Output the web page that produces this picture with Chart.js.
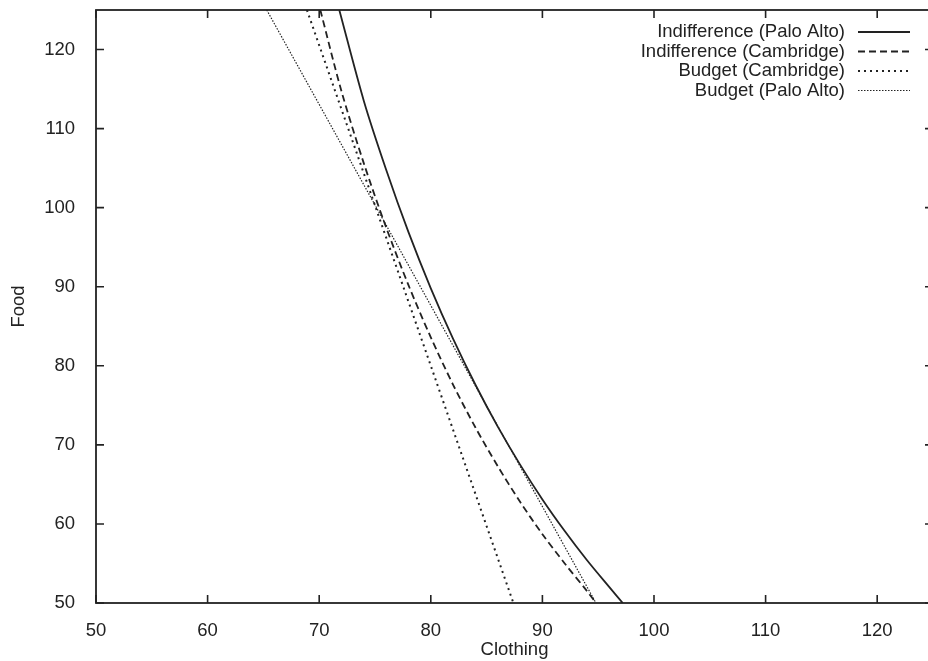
<!DOCTYPE html>
<html>
<head>
<meta charset="utf-8">
<script src="https://cdn.jsdelivr.net/npm/chart.js@4.4.0/dist/chart.umd.min.js"></script>
<style>
  html, body { margin: 0; padding: 0; background: #fff; overflow: hidden; }
  #wrap { width: 940px; height: 661px; }
</style>
</head>
<body>
<div id="wrap"><canvas id="chart" width="940" height="661"></canvas></div>
<script>
// Values
const seriesNames = ['Indifference (Palo Alto)', 'Indifference (Cambridge)', 'Budget (Cambridge)', 'Budget (Palo Alto)'];

const indiffPaloAltoClothing = [71.8, 74, 76, 78, 80, 82, 84, 86, 88, 90, 92, 94, 96, 97.2];
const indiffPaloAltoFood     = [125, 113.5, 104.8, 96.9, 89.8, 83.4, 77.6, 72.3, 67.5, 63.1, 59.1, 55.4, 52.0, 50];

const indiffCambridgeClothing = [70.1, 72, 74, 76, 78, 80, 82, 84, 86, 88, 90, 92, 94, 94.8];
const indiffCambridgeFood     = [125, 114.7, 105.6, 97.5, 90.2, 83.6, 77.6, 72.2, 67.3, 62.8, 58.7, 55.0, 51.5, 50];

const budgetCambridgeClothing = [68.9, 87.4];
const budgetCambridgeFood     = [125, 50];

const budgetPaloAltoClothing = [65.3, 94.8];
const budgetPaloAltoFood     = [125, 50];

const xTicks = [50, 60, 70, 80, 90, 100, 110, 120];
const yTicks = [50, 60, 70, 80, 90, 100, 110, 120];

const ink = '#222';
const fontFamily = '"Liberation Sans", Arial, sans-serif';
const lineStyles = [
  { width: 1.8, dash: [] },
  { width: 1.8, dash: [7, 4] },
  { width: 2.0, dash: [2, 4] },
  { width: 1.2, dash: [1.5, 1.5] }
];

function toPoints(xs, ys) {
  return xs.map((x, i) => ({ x: x, y: ys[i] }));
}

const seriesData = [
  toPoints(indiffPaloAltoClothing, indiffPaloAltoFood),
  toPoints(indiffCambridgeClothing, indiffCambridgeFood),
  toPoints(budgetCambridgeClothing, budgetCambridgeFood),
  toPoints(budgetPaloAltoClothing, budgetPaloAltoFood)
];

// gnuplot style frame, inward ticks on all sides, and key in the top right
const gnuplotFrame = {
  id: 'gnuplotFrame',
  afterDraw(chart) {
    const { ctx, chartArea: a, scales: { x, y } } = chart;
    ctx.save();
    ctx.strokeStyle = ink;
    ctx.lineWidth = 1.8;
    ctx.setLineDash([]);
    ctx.strokeRect(a.left, a.top, a.right - a.left, a.bottom - a.top);

    ctx.lineWidth = 1.6;
    ctx.beginPath();
    xTicks.forEach(v => {
      const px = x.getPixelForValue(v);
      ctx.moveTo(px, a.bottom); ctx.lineTo(px, a.bottom - 8);
      ctx.moveTo(px, a.top); ctx.lineTo(px, a.top + 8);
    });
    yTicks.forEach(v => {
      const py = y.getPixelForValue(v);
      ctx.moveTo(a.left, py); ctx.lineTo(a.left + 8, py);
      ctx.moveTo(a.right, py); ctx.lineTo(a.right - 8, py);
    });
    ctx.stroke();

    // key
    ctx.font = '18.5px ' + fontFamily;
    ctx.fillStyle = ink;
    ctx.textAlign = 'right';
    ctx.textBaseline = 'middle';
    seriesNames.forEach((name, i) => {
      const rowY = a.top + 22 + i * 19.5;
      ctx.fillText(name, a.right - 88, rowY);
      const st = lineStyles[i];
      ctx.lineWidth = st.width;
      ctx.setLineDash(st.dash);
      ctx.beginPath();
      ctx.moveTo(a.right - 75, rowY);
      ctx.lineTo(a.right - 23, rowY);
      ctx.stroke();
    });
    ctx.restore();
  }
};

new Chart(document.getElementById('chart'), {
  type: 'scatter',
  data: {
    datasets: seriesData.map((pts, i) => ({
      label: seriesNames[i],
      data: pts,
      showLine: true,
      borderColor: ink,
      borderWidth: lineStyles[i].width,
      borderDash: lineStyles[i].dash,
      pointRadius: 0,
      tension: 0.3,
      fill: false
    }))
  },
  options: {
    responsive: false,
    animation: false,
    layout: { padding: { left: 0, top: 10, right: 7, bottom: 0 } },
    plugins: {
      legend: { display: false },
      tooltip: { enabled: false }
    },
    scales: {
      x: {
        type: 'linear',
        min: 50,
        max: 125,
        afterBuildTicks: s => { s.ticks = xTicks.map(v => ({ value: v })); },
        afterFit: s => { s.height = 58; s.paddingLeft = 0; s.paddingRight = 0; },
        grid: { display: false },
        border: { display: false },
        ticks: { color: ink, padding: 9, font: { size: 18.5, family: fontFamily } },
        title: { display: true, text: 'Clothing', color: ink, padding: { top: 0, bottom: 0 }, font: { size: 18.5, family: fontFamily } }
      },
      y: {
        type: 'linear',
        min: 50,
        max: 125,
        afterBuildTicks: s => { s.ticks = yTicks.map(v => ({ value: v })); },
        afterFit: s => { s.width = 96; s.paddingTop = 0; s.paddingBottom = 0; },
        grid: { display: false },
        border: { display: false },
        ticks: { color: ink, padding: 13, font: { size: 18.5, family: fontFamily } },
        title: { display: true, text: 'Food', color: ink, padding: { top: 8, bottom: 0 }, font: { size: 18.5, family: fontFamily } }
      }
    }
  },
  plugins: [gnuplotFrame]
});
</script>
</body>
</html>
